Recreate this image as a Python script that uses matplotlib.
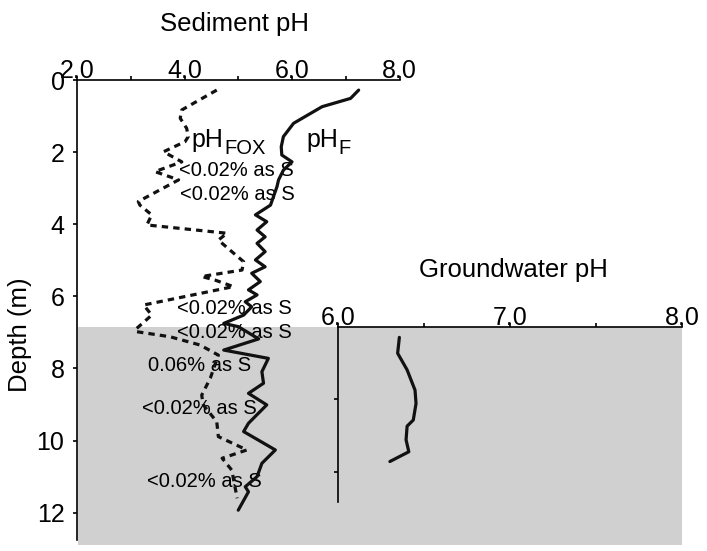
import matplotlib
matplotlib.use("Agg")
import matplotlib.pyplot as plt
from matplotlib.patches import Rectangle
from matplotlib.ticker import MultipleLocator

plt.rcParams["font.family"] = ["Liberation Sans", "DejaVu Sans"]

# Sediment field pH (pH_F) profile
depth_f = [0.28, 0.51, 0.74, 1.20, 1.57, 1.85, 2.08, 2.27, 2.50, 2.77, 2.96,
           3.47, 3.74, 3.93, 4.16, 4.35, 4.53, 4.76, 4.99, 5.18, 5.36, 5.59,
           5.82, 5.96, 6.15, 6.29, 6.52, 6.75, 6.84, 7.18, 7.49, 7.72, 8.09,
           8.41, 8.69, 9.01, 9.52, 9.75, 10.26, 10.63, 11.00, 11.28, 11.42, 11.93]
ph_f = [7.24, 7.09, 6.56, 6.03, 5.84, 5.80, 5.81, 6.00, 5.84, 5.75, 5.72,
        5.60, 5.32, 5.53, 5.35, 5.50, 5.35, 5.50, 5.32, 5.50, 5.25, 5.41,
        5.19, 5.35, 5.13, 5.25, 5.10, 4.73, 5.00, 5.38, 4.73, 5.56, 5.44,
        5.47, 5.19, 5.53, 5.19, 5.10, 5.69, 5.44, 5.35, 5.13, 5.19, 5.00]

# Sediment pH after oxidation (pH_FOX) profile
depth_fox = [0.28, 0.83, 1.06, 1.34, 1.57, 1.71, 1.99, 2.27, 2.54, 2.77, 3.37,
             3.47, 3.74, 4.02, 4.25, 4.44, 5.04, 5.27, 5.45, 5.55, 5.73, 6.24,
             6.52, 6.93, 6.98, 7.12, 7.35, 7.63, 8.27, 8.74, 9.01, 9.48, 9.89,
             10.26, 10.49, 10.82, 11.60]
ph_fox = [4.60, 3.95, 3.92, 4.04, 4.07, 4.01, 3.61, 3.95, 3.45, 3.89, 3.14,
          3.17, 3.39, 3.30, 4.79, 4.63, 5.10, 5.07, 4.32, 4.57, 4.91, 3.24,
          3.39, 3.08, 3.11, 3.73, 4.29, 4.63, 4.48, 4.32, 4.35, 4.60, 4.63,
          5.16, 4.70, 4.88, 4.98]

# Groundwater pH profile
depth_gw = [7.14, 7.58, 8.04, 8.60, 8.97, 9.43, 9.60, 9.98, 10.31, 10.58]
ph_gw = [6.355, 6.345, 6.40, 6.446, 6.452, 6.436, 6.40, 6.394, 6.41, 6.30]

# Reduced sulfur annotations: (label, pH at left edge, depth)
s_labels = ["<0.02% as S", "<0.02% as S", "<0.02% as S", "<0.02% as S",
            "0.06% as S", "<0.02% as S", "<0.02% as S"]
s_label_ph = [3.89, 3.92, 3.86, 3.86, 3.33, 3.20, 3.30]
s_label_depth = [2.50, 3.17, 6.33, 7.00, 7.92, 9.10, 11.14]

water_table = 6.86
sed_ticks = [2.0, 4.0, 6.0, 8.0]
gw_ticks = [6.0, 7.0, 8.0]
depth_ticks = [0, 2, 4, 6, 8, 10, 12]

W, H = 707, 551
fig = plt.figure(figsize=(W / 100, H / 100), dpi=100)
fig.patch.set_facecolor("white")

# Saturated zone shading
fig.patches.append(Rectangle((78 / W, (H - 545) / H), 604 / W, (545 - 327) / H,
                             transform=fig.transFigure, facecolor="#d0d0d0",
                             edgecolor="none", zorder=0))

lw_spine = 1.2
tick_fs = 18

ax = fig.add_axes([77 / W, (H - 540) / H, (399.5 - 77) / W, 460 / H])
ax.set_zorder(2)
ax.patch.set_alpha(0)
ax.set_xlim(2, 8)
ax.set_ylim(12.757, 0)
ax.xaxis.tick_top()
ax.set_xticks(sed_ticks)
ax.set_xticklabels([f"{v:.1f}" for v in sed_ticks])
ax.xaxis.set_minor_locator(MultipleLocator(1.0))
ax.set_yticks(depth_ticks)
for s in ["right", "bottom"]:
    ax.spines[s].set_visible(False)
for s in ["top", "left"]:
    ax.spines[s].set_linewidth(lw_spine)
ax.tick_params(axis="x", which="both", top=True, bottom=False, direction="out",
               length=3, width=lw_spine, pad=-5, labelsize=tick_fs)
ax.tick_params(axis="y", which="both", direction="out", length=3,
               width=lw_spine, pad=6, labelsize=tick_fs)

ax.plot(ph_f, depth_f, color="#111111", lw=2.3, solid_joinstyle="round",
        solid_capstyle="round", zorder=3)
ax.plot(ph_fox, depth_fox, color="#111111", lw=2.3, linestyle=(0, (2.0, 1.6)),
        zorder=3)


def subscripted(x, y, main, sub):
    t = ax.text(x, y, main, fontsize=18, ha="left", va="baseline", zorder=4)
    ax.annotate(sub, xy=(1, 0), xycoords=t, xytext=(0.5, -2),
                textcoords="offset points", fontsize=14.5, ha="left",
                va="baseline", zorder=4)


subscripted(4.13, 1.85, "pH", "FOX")
subscripted(6.26, 1.85, "pH", "F")

for lab, px, dy in zip(s_labels, s_label_ph, s_label_depth):
    ax.text(px, dy, lab, fontsize=14.5, ha="left", va="center", zorder=2)

fig.text(235 / W, 1 - 24 / H, "Sediment pH", fontsize=18.5, ha="center",
         va="center")
fig.text(20 / W, 1 - 335 / H, "Depth (m)", fontsize=18.5, rotation=90,
         ha="center", va="center")

# Groundwater inset
ax2 = fig.add_axes([338.3 / W, (H - 501.7) / H, 344 / W, (501.7 - 327.3) / H])
ax2.set_zorder(3)
ax2.patch.set_alpha(0)
ax2.set_xlim(6, 8)
ax2.set_ylim(11.694, water_table)
ax2.xaxis.tick_top()
ax2.set_xticks(gw_ticks)
ax2.set_xticklabels([f"{v:.1f}" for v in gw_ticks])
ax2.xaxis.set_minor_locator(MultipleLocator(0.5))
ax2.set_yticks([water_table + 2, water_table + 4])
ax2.set_yticklabels([])
for s in ["right", "bottom"]:
    ax2.spines[s].set_visible(False)
for s in ["top", "left"]:
    ax2.spines[s].set_linewidth(lw_spine)
ax2.tick_params(axis="x", which="both", top=True, bottom=False, direction="out",
                length=3, width=lw_spine, pad=-5, labelsize=tick_fs)
ax2.tick_params(axis="y", direction="out", length=3, width=lw_spine)
ax2.plot(ph_gw, depth_gw, color="#111111", lw=2.3, solid_capstyle="round",
         solid_joinstyle="round")

fig.text(513 / W, 1 - 270 / H, "Groundwater pH", fontsize=18.5, ha="center",
         va="center")

fig.savefig("out.png", dpi=100)
